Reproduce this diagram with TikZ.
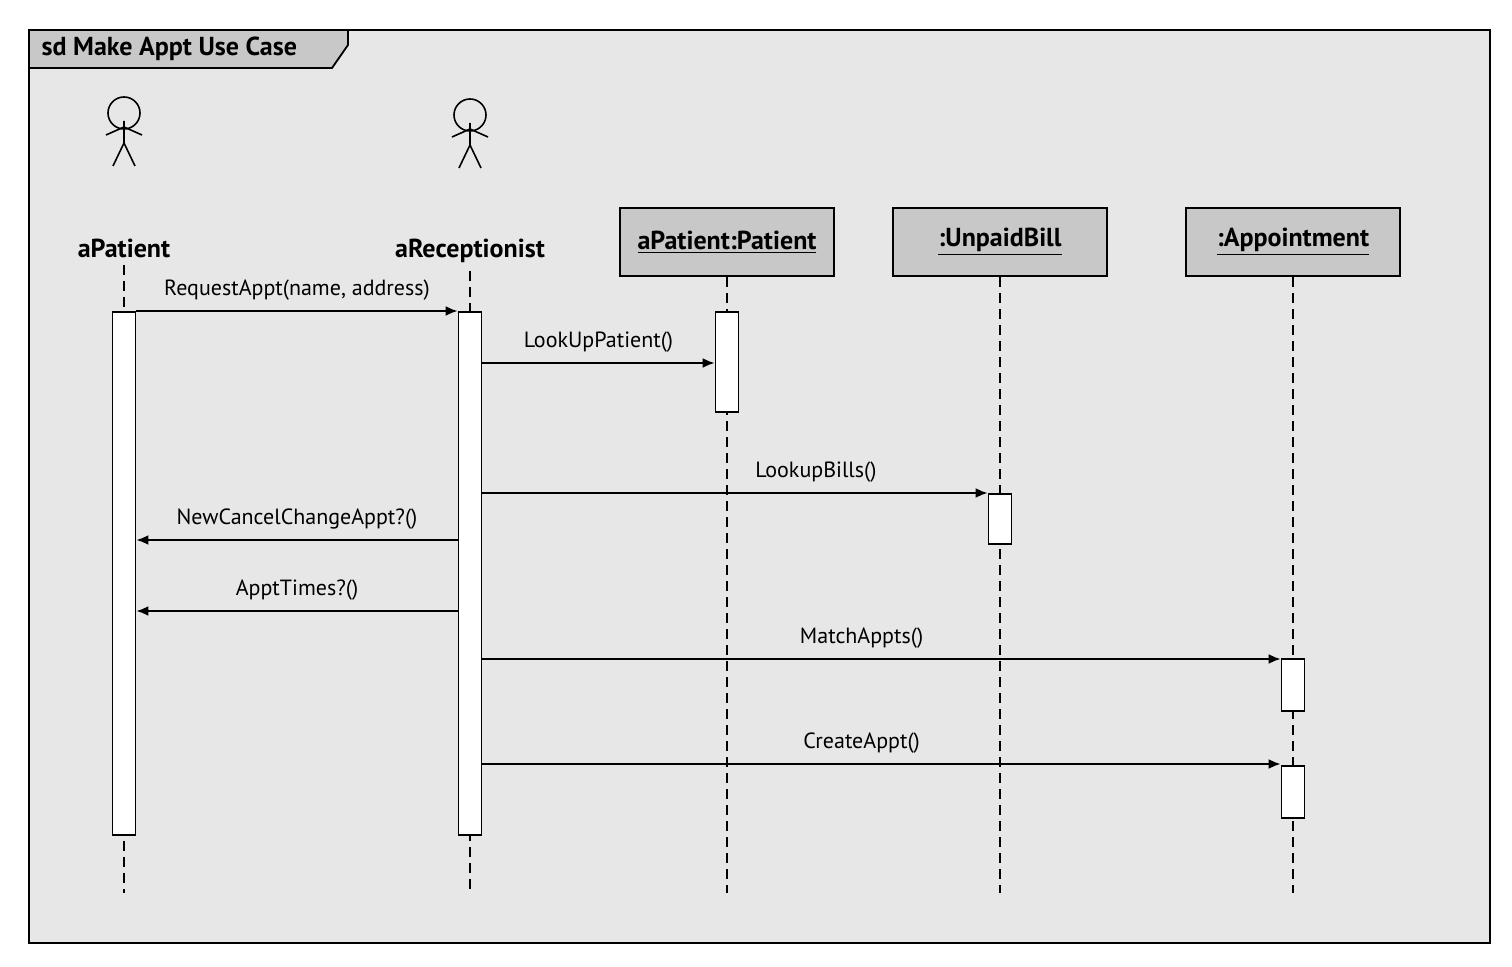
\documentclass[tikz,border=0pt]{standalone}
\usepackage{fontspec}
\setmainfont{PT Sans}
\usetikzlibrary{arrows.meta,positioning}
\definecolor{frameBg}{RGB}{231,231,231}
\definecolor{boxBg}{RGB}{200,200,200}
\tikzset{every picture/.style={line width=1pt}}
\tikzset{
  obj/.style={draw,line width=1.4pt,fill=boxBg,minimum width=107pt,minimum height=34pt,font=\bfseries\fontsize{13}{15}\selectfont},
  act/.style={draw,fill=white,line width=0.8pt,minimum width=11.5pt,inner sep=0pt,anchor=north},
  life/.style={dash pattern=on 5pt off 3pt,line width=1.1pt},
  msg/.style={-{Latex[length=6pt,width=5pt]},line width=1.1pt},
  lbl/.style={font=\fontsize{11}{13}\selectfont,inner sep=1pt},
  actorname/.style={font=\bfseries\fontsize{13}{15}\selectfont}
}
\newcommand{\stickman}[2]{% x, head y
  \draw[line width=0.8pt] (#1,#2) circle (8pt);
  \draw[line width=0.8pt] (#1,#2+8) -- (#1,#2+30) (#1-18,#2+22) -- (#1,#2+14) -- (#1+18,#2+22)
    (#1-11,#2+53) -- (#1,#2+30) -- (#1+11,#2+53);
}
\begin{document}
\begin{tikzpicture}[x=0.5pt,y=-0.5pt]
\useasboundingbox (0,0) rectangle (1512,967);

%frame
\draw[fill=frameBg,line width=0.9pt] (29,30) rectangle (1490,943);
\draw[fill=boxBg,line width=0.9pt] (29,30) -- (348,30) -- (348,45) -- (332,68) -- (29,68) -- cycle;
\node[anchor=west,font=\bfseries\fontsize{13}{15}\selectfont] (title) at (34,49) {sd Make Appt Use Case};

%actors
\stickman{124}{113}
\stickman{470}{115}
\node[actorname] (aPatient) at (124,248) {aPatient};
\node[actorname] (aRecep) at (470,251) {aReceptionist};

%objects
\node[obj] (pat) at (727,242) {\underline{aPatient:Patient}};
\node[obj] (bill) at (1000,242) {\underline{:UnpaidBill}};
\node[obj] (appt) at (1293,242) {\underline{:Appointment}};

%lifelines
\coordinate (endP) at (124,893);
\coordinate (endR) at (470,893);
\draw[life] (aPatient.south) -- (endP);
\draw[life] (aRecep.south) -- (endR);
\draw[life] (pat.south) -- (pat.south |- endP);
\draw[life] (bill.south) -- (bill.south |- endP);
\draw[life] (appt.south) -- (appt.south |- endP);

%activations
\node[act,minimum height=261.5pt] (aP) at (124,311) {};
\node[act,minimum height=261.5pt] (aR) at (470,311) {};
\node[act,minimum height=50pt] (aPat) at (727,311) {};
\node[act,minimum height=25pt] (aBill) at (1000,493) {};
\node[act,minimum height=26pt] (aAp1) at (1293,658) {};
\node[act,minimum height=26pt] (aAp2) at (1293,765) {};

%messages
\coordinate (m1) at (0,311);
\coordinate (m2) at (0,363);
\coordinate (m3) at (0,493);
\coordinate (m4) at (0,540);
\coordinate (m5) at (0,611);
\coordinate (m6) at (0,659);
\coordinate (m7) at (0,764);
\draw[msg] (aP.east |- m1) -- node[lbl,above=4pt] {RequestAppt(name, address)} (aR.west |- m1);
\draw[msg] (aR.east |- m2) -- node[lbl,above=4pt] {LookUpPatient()} (aPat.west |- m2);
\draw[msg] (aR.east |- m3) -- node[lbl,above=4pt,pos=0.66] {LookupBills()} (aBill.west |- m3);
\draw[msg] (aR.west |- m4) -- node[lbl,above=4pt] {NewCancelChangeAppt?()} (aP.east |- m4);
\draw[msg] (aR.west |- m5) -- node[lbl,above=4pt] {ApptTimes?()} (aP.east |- m5);
\draw[msg] (aR.east |- m6) -- node[lbl,above=4pt,pos=0.475] {MatchAppts()} (aAp1.west |- m6);
\draw[msg] (aR.east |- m7) -- node[lbl,above=4pt,pos=0.475] {CreateAppt()} (aAp2.west |- m7);

\end{tikzpicture}
\end{document}
